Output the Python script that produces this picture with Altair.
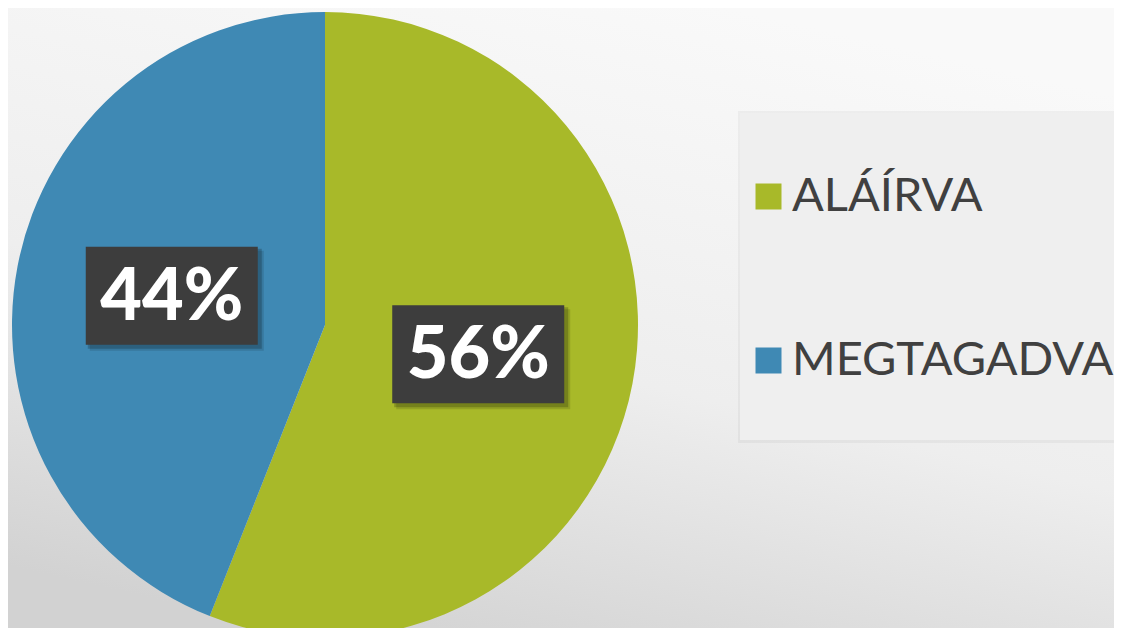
import altair as alt
import pandas as pd

categories = ["ALÁÍRVA", "MEGTAGADVA"]
values = [56, 44]
labels = ["56%", "44%"]
colors = ["#A8B929", "#3F89B4"]

df = pd.DataFrame({"cat": categories, "val": values, "lab": labels, "ord": [0, 1]})

W, H = 1106, 620
CX, CY, R, LR = 317, 317, 313, 156

bg = alt.Chart(alt.Data(values=[{}])).mark_rect(
    color=alt.Gradient(
        gradient="linear",
        stops=[alt.GradientStop(offset=0, color="#f9f9f9"),
               alt.GradientStop(offset=0.55, color="#eeeeee"),
               alt.GradientStop(offset=1, color="#d2d2d2")],
        x1=0.65, y1=0, x2=0.25, y2=1)
).encode(x=alt.value(0), x2=alt.value(W), y=alt.value(0), y2=alt.value(H))

legshadow = alt.Chart(alt.Data(values=[{}])).mark_rect(
    color="#000000", opacity=0.04
).encode(x=alt.value(730), x2=alt.value(W + 2), y=alt.value(103), y2=alt.value(435))

legbox = alt.Chart(alt.Data(values=[{}])).mark_rect(
    color="#efefef"
).encode(x=alt.value(732), x2=alt.value(W + 2), y=alt.value(105), y2=alt.value(432))

base = alt.Chart(df)

pie = base.mark_arc(outerRadius=R).encode(
    theta=alt.Theta("val:Q", stack=True),
    order=alt.Order("ord:Q"),
    color=alt.Color("cat:N", scale=alt.Scale(domain=categories, range=colors),
                    legend=alt.Legend(title=None, orient="none", legendX=737, legendY=165,
                                      symbolType="square", symbolSize=676,
                                      symbolStrokeWidth=0, symbolOpacity=1,
                                      labelFont="Lato", labelFontSize=47,
                                      labelColor="#404040", labelOffset=0,
                                      rowPadding=116, padding=0, labelLimit=500)),
    x=alt.value(CX), y=alt.value(CY),
)

pos = base.transform_window(
    cum="sum(val)", sort=[alt.SortField("ord")]
).transform_joinaggregate(
    tot="sum(val)"
).transform_calculate(
    mid="2*PI*(datum.cum - datum.val/2)/datum.tot"
).transform_calculate(
    px=f"{CX} + {LR}*sin(datum.mid)", py=f"{CY} - {LR}*cos(datum.mid)"
).transform_calculate(
    x1="datum.px - 86", x2="datum.px + 86", y1="datum.py - 49", y2="datum.py + 49",
    sx1="datum.px - 84", sx2="datum.px + 90", sy1="datum.py - 47", sy2="datum.py + 53",
    tx1="datum.px - 82", tx2="datum.px + 92", ty1="datum.py - 45", ty2="datum.py + 55",
)

shadow2 = pos.mark_rect(color="#000000", opacity=0.12).encode(
    x=alt.X("tx1:Q", scale=None), x2="tx2:Q",
    y=alt.Y("ty1:Q", scale=None), y2="ty2:Q")

shadow = pos.mark_rect(color="#000000", opacity=0.2).encode(
    x=alt.X("sx1:Q", scale=None), x2="sx2:Q",
    y=alt.Y("sy1:Q", scale=None), y2="sy2:Q")

box = pos.mark_rect(color="#3d3d3d").encode(
    x=alt.X("x1:Q", scale=None), x2="x2:Q",
    y=alt.Y("y1:Q", scale=None), y2="y2:Q")

txt = pos.mark_text(font="Lato", fontWeight=900, fontSize=72, color="white",
                    baseline="middle", align="center", dy=2).encode(
    x=alt.X("px:Q", scale=None), y=alt.Y("py:Q", scale=None), text="lab:N")

chart = alt.layer(bg, legshadow, legbox, pie, shadow2, shadow, box, txt).properties(
    width=W, height=H, padding=0, autosize="none"
).configure_view(stroke=None)

chart.save("out.html", embed_options={"renderer": "svg", "actions": False})
